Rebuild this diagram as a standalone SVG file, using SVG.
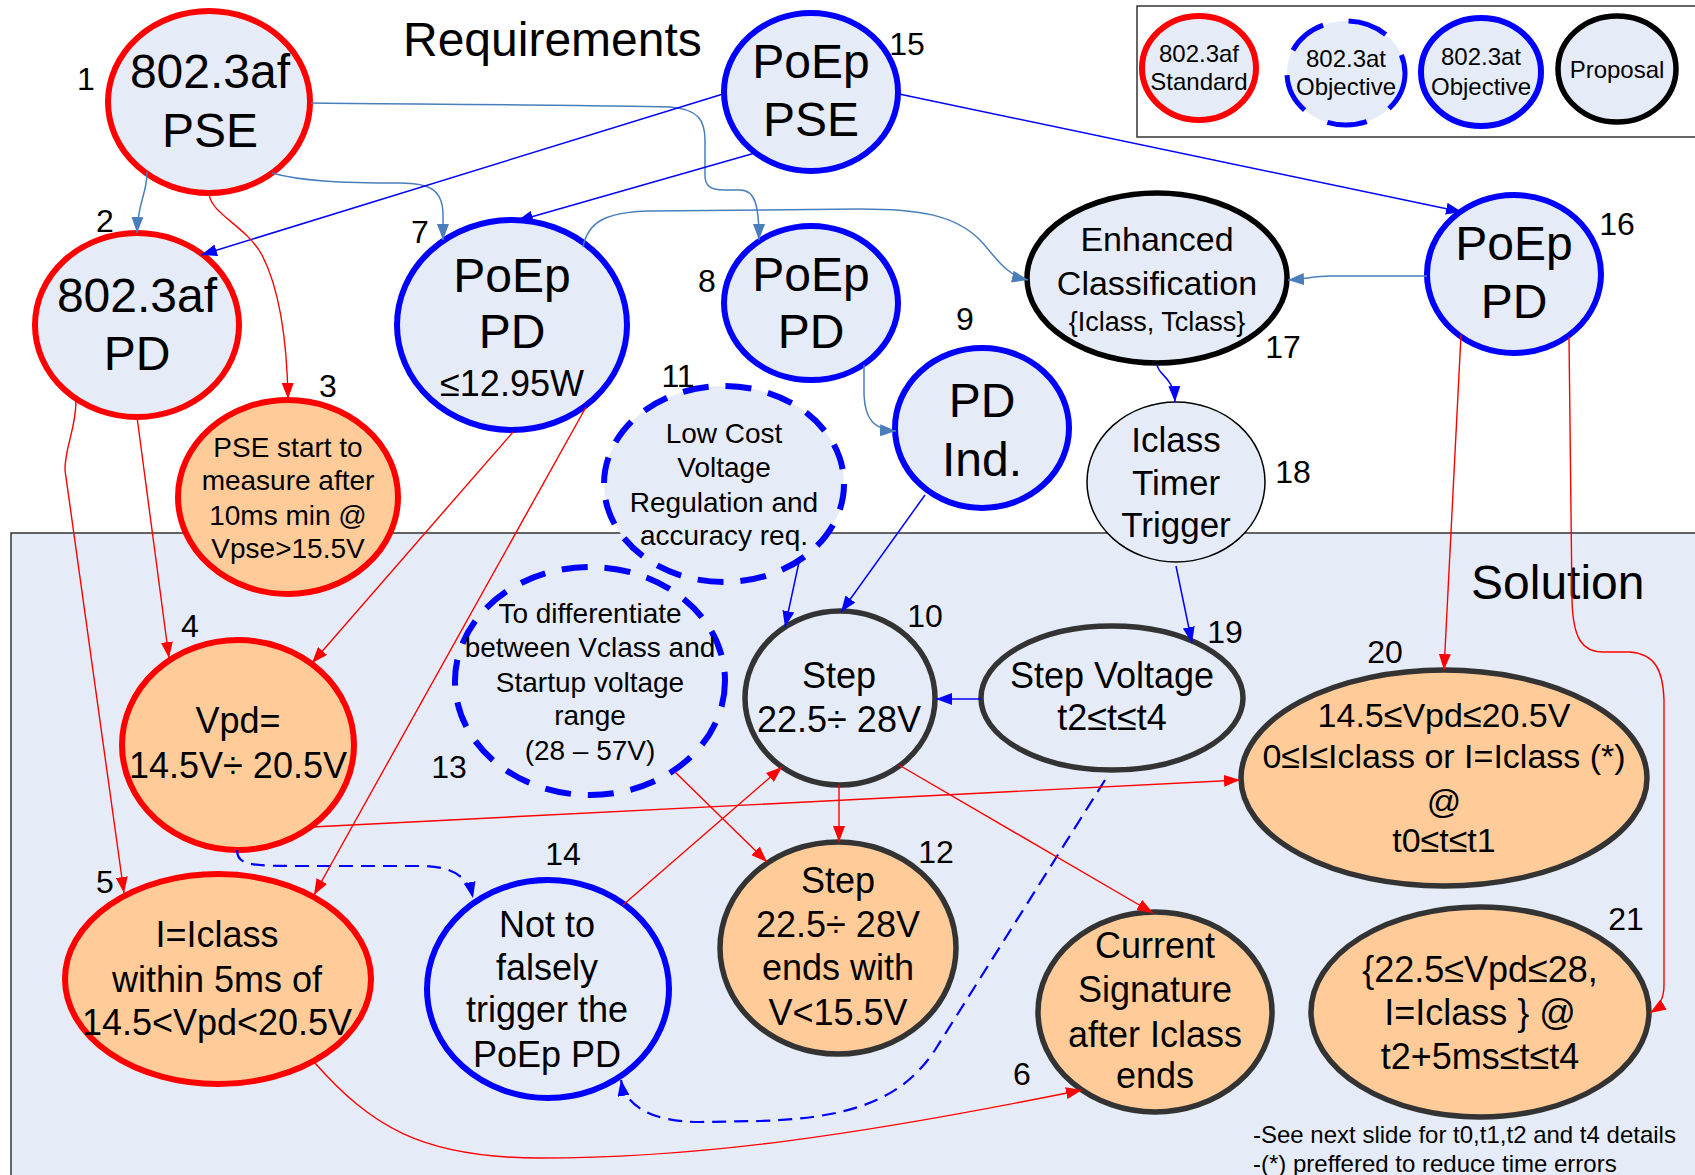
<svg xmlns="http://www.w3.org/2000/svg" width="1695" height="1175" viewBox="0 0 1695 1175">
  <style>
    text { font-family: "Liberation Sans", Arial, sans-serif; fill: #000; text-anchor: middle; }
    .big { font-size: 48px; }
    .mid { font-size: 36px; }
    .sm { font-size: 28px; }
    .lg { font-size: 24px; }
    .num { font-size: 32px; }
    .title { font-size: 48px; text-anchor: start; }
    .note { font-size: 24px; text-anchor: start; }
    .n-red { fill: #E6ECF7; stroke: #FF0000; stroke-width: 6; }
    .n-red-pe { fill: #FFCC99; stroke: #FF0000; stroke-width: 6; }
    .n-blue { fill: #E6ECF7; stroke: #0000FF; stroke-width: 6; }
    .n-dash { fill: #E6ECF7; stroke: #0000FF; stroke-width: 6; stroke-dasharray: 26 17; }
    .n-black { fill: #E6ECF7; stroke: #000; stroke-width: 5.5; }
    .n-thin { fill: #E6ECF7; stroke: #000; stroke-width: 1.5; }
    .n-dark { fill: #E6ECF7; stroke: #333333; stroke-width: 5.5; }
    .n-dark-pe { fill: #FFCC99; stroke: #333333; stroke-width: 5.5; }
    .c-red { fill: none; stroke: #FF0000; stroke-width: 1.4; marker-end: url(#ar); }
    .c-blue { fill: none; stroke: #0000FF; stroke-width: 1.5; marker-end: url(#ab); }
    .c-steel { fill: none; stroke: #4A7EBB; stroke-width: 1.5; marker-end: url(#as); }
    .c-dash { fill: none; stroke: #0000FF; stroke-width: 2.2; stroke-dasharray: 14 8; marker-end: url(#ab); }
  </style>
  <defs>
    <marker id="ar" viewBox="0 0 16 12" refX="16" refY="6" markerWidth="16" markerHeight="12" markerUnits="userSpaceOnUse" orient="auto">
      <path d="M0,0 L16,6 L0,12 z" fill="#FF0000"/>
    </marker>
    <marker id="ab" viewBox="0 0 16 12" refX="16" refY="6" markerWidth="16" markerHeight="12" markerUnits="userSpaceOnUse" orient="auto">
      <path d="M0,0 L16,6 L0,12 z" fill="#0000FF"/>
    </marker>
    <marker id="as" viewBox="0 0 16 12" refX="16" refY="6" markerWidth="16" markerHeight="12" markerUnits="userSpaceOnUse" orient="auto">
      <path d="M0,0 L16,6 L0,12 z" fill="#4A7EBB"/>
    </marker>
  </defs>

  <rect width="1695" height="1175" fill="#FFFFFF"/>

  <!-- solution area -->
  <rect id="solution-area" x="11" y="533" width="1690" height="650" fill="#E6ECF7" stroke="#333333" stroke-width="1.5"/>
  <text class="title" x="403" y="56">Requirements</text>
  <text class="title" x="1471" y="599">Solution</text>

  <!-- legend -->
  <g id="legend">
    <rect x="1137" y="6" width="570" height="131" fill="#FFFFFF" stroke="#333333" stroke-width="1.5"/>
    <ellipse cx="1199" cy="68" rx="57" ry="52" class="n-red"/>
    <text class="lg" x="1199" y="62">802.3af</text>
    <text class="lg" x="1199" y="90">Standard</text>
    <ellipse cx="1346" cy="73" rx="59" ry="52" fill="#E6ECF7" stroke="#0000FF" stroke-width="5" stroke-dasharray="40 26"/>
    <text class="lg" x="1346" y="67">802.3at</text>
    <text class="lg" x="1346" y="95">Objective</text>
    <ellipse cx="1481" cy="72" rx="60" ry="54" class="n-blue"/>
    <text class="lg" x="1481" y="65">802.3at</text>
    <text class="lg" x="1481" y="95">Objective</text>
    <ellipse cx="1617" cy="69" rx="59" ry="53" class="n-black"/>
    <text class="lg" x="1617" y="78">Proposal</text>
  </g>

  <!-- nodes -->
  <g id="n1">
    <ellipse cx="209" cy="102" rx="101" ry="91" class="n-red"/>
    <text class="big" x="210" y="88">802.3af</text>
    <text class="big" x="210" y="147">PSE</text>
    <text class="num" x="86" y="90">1</text>
  </g>
  <g id="n2">
    <ellipse cx="137" cy="325" rx="102" ry="92" class="n-red"/>
    <text class="big" x="137" y="312">802.3af</text>
    <text class="big" x="137" y="370">PD</text>
    <text class="num" x="105" y="232">2</text>
  </g>
  <g id="n3">
    <ellipse cx="288" cy="497" rx="110" ry="97" class="n-red-pe"/>
    <text class="sm" x="288" y="457">PSE start to</text>
    <text class="sm" x="288" y="490">measure after</text>
    <text class="sm" x="288" y="525">10ms min @</text>
    <text class="sm" x="288" y="558">Vpse&gt;15.5V</text>
    <text class="num" x="328" y="397">3</text>
  </g>
  <g id="n7">
    <ellipse cx="512" cy="325" rx="115" ry="105" class="n-blue"/>
    <text class="big" x="512" y="292">PoEp</text>
    <text class="big" x="512" y="348">PD</text>
    <text class="mid" x="512" y="396">≤12.95W</text>
    <text class="num" x="420" y="243">7</text>
  </g>
  <g id="n15">
    <ellipse cx="811" cy="92" rx="87" ry="79" class="n-blue"/>
    <text class="big" x="811" y="78">PoEp</text>
    <text class="big" x="811" y="136">PSE</text>
    <text class="num" x="907" y="55">15</text>
  </g>
  <g id="n8">
    <ellipse cx="811" cy="303" rx="87" ry="77" class="n-blue"/>
    <text class="big" x="811" y="291">PoEp</text>
    <text class="big" x="811" y="348">PD</text>
    <text class="num" x="707" y="292">8</text>
  </g>
  <g id="n9">
    <ellipse cx="982" cy="428" rx="87" ry="80" class="n-blue"/>
    <text class="big" x="982" y="417">PD</text>
    <text class="big" x="982" y="476">Ind.</text>
    <text class="num" x="965" y="330">9</text>
  </g>
  <g id="n17">
    <ellipse cx="1157" cy="278" rx="130" ry="85" class="n-black"/>
    <text x="1157" y="251" font-size="34">Enhanced</text>
    <text x="1157" y="295" font-size="34">Classification</text>
    <text x="1157" y="331" font-size="27">{Iclass, Tclass}</text>
    <text class="num" x="1283" y="358">17</text>
  </g>
  <g id="n16">
    <ellipse cx="1514" cy="274" rx="87" ry="79" class="n-blue"/>
    <text class="big" x="1514" y="260">PoEp</text>
    <text class="big" x="1514" y="318">PD</text>
    <text class="num" x="1617" y="235">16</text>
  </g>
  <g id="n18">
    <ellipse cx="1176" cy="482" rx="89" ry="80" class="n-thin"/>
    <text x="1176" y="452" font-size="35">Iclass</text>
    <text x="1176" y="495" font-size="35">Timer</text>
    <text x="1176" y="537" font-size="35">Trigger</text>
    <text class="num" x="1293" y="483">18</text>
  </g>
  <g id="n13">
    <ellipse cx="590" cy="681" rx="135" ry="114" class="n-dash"/>
    <text class="sm" x="590" y="623">To differentiate</text>
    <text class="sm" x="590" y="657">between Vclass and</text>
    <text class="sm" x="590" y="692">Startup voltage</text>
    <text class="sm" x="590" y="725">range</text>
    <text class="sm" x="590" y="760">(28 – 57V)</text>
    <text class="num" x="449" y="778">13</text>
  </g>
  <g id="n11">
    <ellipse cx="724" cy="484" rx="120" ry="98" class="n-dash"/>
    <text class="sm" x="724" y="443">Low Cost</text>
    <text class="sm" x="724" y="477">Voltage</text>
    <text class="sm" x="724" y="512">Regulation and</text>
    <text class="sm" x="724" y="545">accuracy req.</text>
    <text class="num" x="678" y="387">11</text>
  </g>
  <g id="n4">
    <ellipse cx="238" cy="745" rx="116" ry="105" class="n-red-pe"/>
    <text class="mid" x="238" y="733">Vpd=</text>
    <text class="mid" x="238" y="778">14.5V÷ 20.5V</text>
    <text class="num" x="190" y="637">4</text>
  </g>
  <g id="n10">
    <ellipse cx="840" cy="698" rx="95" ry="87" class="n-dark" stroke-width="7"/>
    <text class="mid" x="839" y="688">Step</text>
    <text class="mid" x="839" y="732">22.5÷ 28V</text>
    <text class="num" x="925" y="627">10</text>
  </g>
  <g id="n19">
    <ellipse cx="1112" cy="698" rx="131" ry="72" class="n-dark"/>
    <text class="mid" x="1112" y="688">Step Voltage</text>
    <text class="mid" x="1112" y="730">t2≤t≤t4</text>
    <text class="num" x="1225" y="643">19</text>
  </g>
  <g id="n20">
    <ellipse cx="1444" cy="778" rx="203" ry="108" class="n-dark-pe"/>
    <text x="1444" y="727" font-size="34">14.5≤Vpd≤20.5V</text>
    <text x="1444" y="768" font-size="34">0≤I≤Iclass or I=Iclass (*)</text>
    <text x="1444" y="813" font-size="34">@</text>
    <text x="1444" y="852" font-size="34">t0≤t≤t1</text>
    <text class="num" x="1385" y="663">20</text>
  </g>
  <g id="n5">
    <ellipse cx="218" cy="979" rx="153" ry="105" class="n-red-pe"/>
    <text class="mid" x="217" y="947">I=Iclass</text>
    <text class="mid" x="217" y="992">within 5ms of</text>
    <text class="mid" x="217" y="1035">14.5&lt;Vpd&lt;20.5V</text>
    <text class="num" x="105" y="893">5</text>
  </g>
  <g id="n14">
    <ellipse cx="548" cy="989" rx="121" ry="109" class="n-blue"/>
    <text class="mid" x="547" y="937">Not to</text>
    <text class="mid" x="547" y="980">falsely</text>
    <text class="mid" x="547" y="1022">trigger the</text>
    <text class="mid" x="547" y="1067">PoEp PD</text>
    <text class="num" x="563" y="865">14</text>
  </g>
  <g id="n12">
    <ellipse cx="838" cy="948" rx="118" ry="106" class="n-dark-pe"/>
    <text class="mid" x="838" y="893">Step</text>
    <text class="mid" x="838" y="937">22.5÷ 28V</text>
    <text class="mid" x="838" y="980">ends with</text>
    <text class="mid" x="838" y="1025">V&lt;15.5V</text>
    <text class="num" x="936" y="863">12</text>
  </g>
  <g id="n6">
    <ellipse cx="1155" cy="1012" rx="117" ry="100" class="n-dark-pe"/>
    <text class="mid" x="1155" y="958">Current</text>
    <text class="mid" x="1155" y="1002">Signature</text>
    <text class="mid" x="1155" y="1047">after Iclass</text>
    <text class="mid" x="1155" y="1088">ends</text>
    <text class="num" x="1022" y="1085">6</text>
  </g>
  <g id="n21">
    <ellipse cx="1480" cy="1012" rx="169" ry="105" class="n-dark-pe"/>
    <text class="mid" x="1480" y="982">{22.5≤Vpd≤28,</text>
    <text class="mid" x="1480" y="1025">I=Iclass } @</text>
    <text class="mid" x="1480" y="1069">t2+5ms≤t≤t4</text>
    <text class="num" x="1626" y="930">21</text>
  </g>

  <!-- connectors -->
  <g id="connectors">
    <!-- steel blue curved links -->
    <path class="c-steel" d="M147,172 C147,195 138,200 137,233"/>
    <path class="c-steel" d="M272,173 C300,181 340,183 400,183 C430,183 443,190 443,215 L443,240"/>
    <path class="c-steel" d="M311,103 C400,104 600,105 670,107 C698,109 705,120 705,140 L705,175 C705,186 710,190 725,190 L740,190 C755,190 759,205 759,240"/>
    <path class="c-steel" d="M583,247 C588,222 605,212 650,211 L860,209 C920,209 955,215 980,240 C995,256 1005,275 1028,280"/>
    <path class="c-steel" d="M1427,276 L1330,276 C1315,276 1305,279 1288,280"/>
    <path class="c-steel" d="M864,365 L864,395 C865,420 875,430 896,431"/>
    <!-- blue straight links -->
    <path class="c-blue" d="M723,94 L201,255"/>
    <path class="c-blue" d="M755,153 L517,221"/>
    <path class="c-blue" d="M899,94 L1462,212"/>
    <path class="c-blue" d="M1157,364 C1157,375 1174,376 1175,402"/>
    <path class="c-blue" d="M1176,566 L1192,643"/>
    <path class="c-blue" d="M981,699 L936,699"/>
    <path class="c-blue" d="M925,495 L841,612"/>
    <path class="c-blue" d="M799,562 L785,627"/>
    <!-- dashed blue links -->
    <path class="c-dash" d="M237,850 C237,865 250,866 300,866 L420,866 C450,866 468,875 473,898"/>
    <path class="c-dash" d="M1105,780 L935,1050 C905,1095 860,1118 760,1121 L700,1122 C650,1122 625,1105 621,1080"/>
    <!-- red links -->
    <path class="c-red" d="M209,194 C212,215 245,225 262,255 C280,290 287,340 288,399"/>
    <path class="c-red" d="M137,417 L169,658"/>
    <path class="c-red" d="M76,400 C76,430 65,445 65,470 L124,893"/>
    <path class="c-red" d="M513,432 L312,663"/>
    <path class="c-red" d="M586,407 L314,895"/>
    <path class="c-red" d="M312,827 L1240,780"/>
    <path class="c-red" d="M675,772 L767,862"/>
    <path class="c-red" d="M623,905 L782,767"/>
    <path class="c-red" d="M839,785 L839,842"/>
    <path class="c-red" d="M899,765 L1153,913"/>
    <path class="c-red" d="M314,1062 C370,1125 420,1158 540,1158 C700,1158 860,1135 1082,1090"/>
    <path class="c-red" d="M1461,335 L1444,670"/>
    <path class="c-red" d="M1569,337 L1572,600 C1573,640 1583,652 1603,652 L1630,652 C1655,654 1663,670 1664,700 L1664,985 C1664,1000 1658,1008 1650,1013"/>
  </g>

  <text class="note" x="1253" y="1143">-See next slide for t0,t1,t2 and t4 details</text>
  <text class="note" x="1253" y="1172">-(*) preffered to reduce time errors</text>
</svg>
